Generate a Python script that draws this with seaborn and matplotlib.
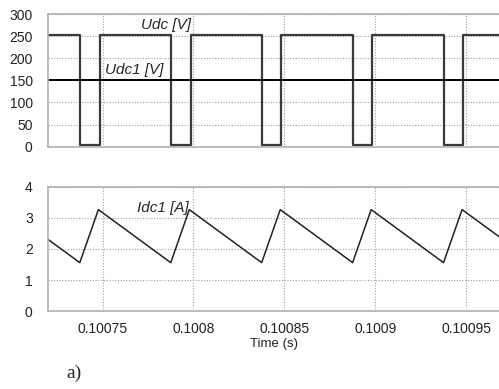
import numpy as np
import pandas as pd
import matplotlib
matplotlib.use("Agg")
import matplotlib.pyplot as plt
import seaborn as sns

# ---- data ----
t_udc = [0.10072, 0.1007375, 0.1007375, 0.1007485, 0.1007485,
         0.1007875, 0.1007875, 0.1007984, 0.1007984,
         0.1008375, 0.1008375, 0.1008483, 0.1008483,
         0.1008875, 0.1008875, 0.1008982, 0.1008982,
         0.1009375, 0.1009375, 0.1009482, 0.1009482, 0.100968]
udc = [252, 252, 4, 4, 252,
       252, 4, 4, 252,
       252, 4, 4, 252,
       252, 4, 4, 252,
       252, 4, 4, 252, 252]

t_udc1 = [0.10072, 0.100968]
udc1 = [150, 150]

t_idc = [0.10072, 0.1007375, 0.1007477, 0.1007875, 0.1007977,
         0.1008375, 0.1008477, 0.1008875, 0.1008977,
         0.1009375, 0.1009477, 0.100968]
idc = [2.31, 1.56, 3.27, 1.56, 3.27,
       1.56, 3.27, 1.56, 3.27,
       1.56, 3.27, 2.40]

xticks = [0.10075, 0.1008, 0.10085, 0.1009, 0.10095]
xticklabels = ['0.10075', '0.1008', '0.10085', '0.1009', '0.10095']

sns.set_style("white")
plt.rcParams['font.family'] = ['Liberation Sans', 'DejaVu Sans']

fig = plt.figure(figsize=(4.99, 3.89), dpi=100)
ax1 = fig.add_axes([0.0962, 0.6229, 0.9038, 0.3411])
ax2 = fig.add_axes([0.0962, 0.2005, 0.9038, 0.3188])

sns.lineplot(x=t_udc, y=udc, ax=ax1, color='#3a3a3a', lw=1.6, sort=False,
             estimator=None, errorbar=None)
sns.lineplot(x=t_udc1, y=udc1, ax=ax1, color='black', lw=1.4, sort=False,
             estimator=None, errorbar=None)
sns.lineplot(x=t_idc, y=idc, ax=ax2, color='#222222', lw=1.1, sort=False,
             estimator=None, errorbar=None)

for ax in (ax1, ax2):
    ax.set_xlim(0.10072, 0.100968)
    ax.set_xticks(xticks)
    ax.grid(True, color='#a0a0a0', ls=(0, (1, 1.5)), lw=0.8)
    for s in ('top', 'left', 'bottom'):
        ax.spines[s].set_color('#b0b0b0')
        ax.spines[s].set_linewidth(1.2)
    ax.spines['right'].set_visible(False)
    ax.tick_params(length=0, labelsize=10, colors='#222222', pad=11)

ax1.set_ylim(0, 300)
ax1.set_yticks([0, 50, 100, 150, 200, 250, 300])
ax1.set_xticklabels([])
ax2.set_ylim(0, 4)
ax2.set_yticks([0, 1, 2, 3, 4])
ax2.set_xticklabels(xticklabels)
ax2.tick_params(axis='x', pad=8)
ax2.set_xlabel('Time (s)', fontsize=9.5, color='#222222', labelpad=1)

ax1.text(0.1007709, 275, 'Udc [V]', style='italic', fontsize=11, va='center')
ax1.text(0.1007511, 173, 'Udc1 [V]', style='italic', fontsize=11, va='center')
ax2.text(0.1007692, 3.33, 'Idc1 [A]', style='italic', fontsize=11, va='center')

fig.text(0.134, 0.041, 'a)', family='Liberation Serif', fontsize=14, va='center')

fig.savefig('out.png', dpi=100)
